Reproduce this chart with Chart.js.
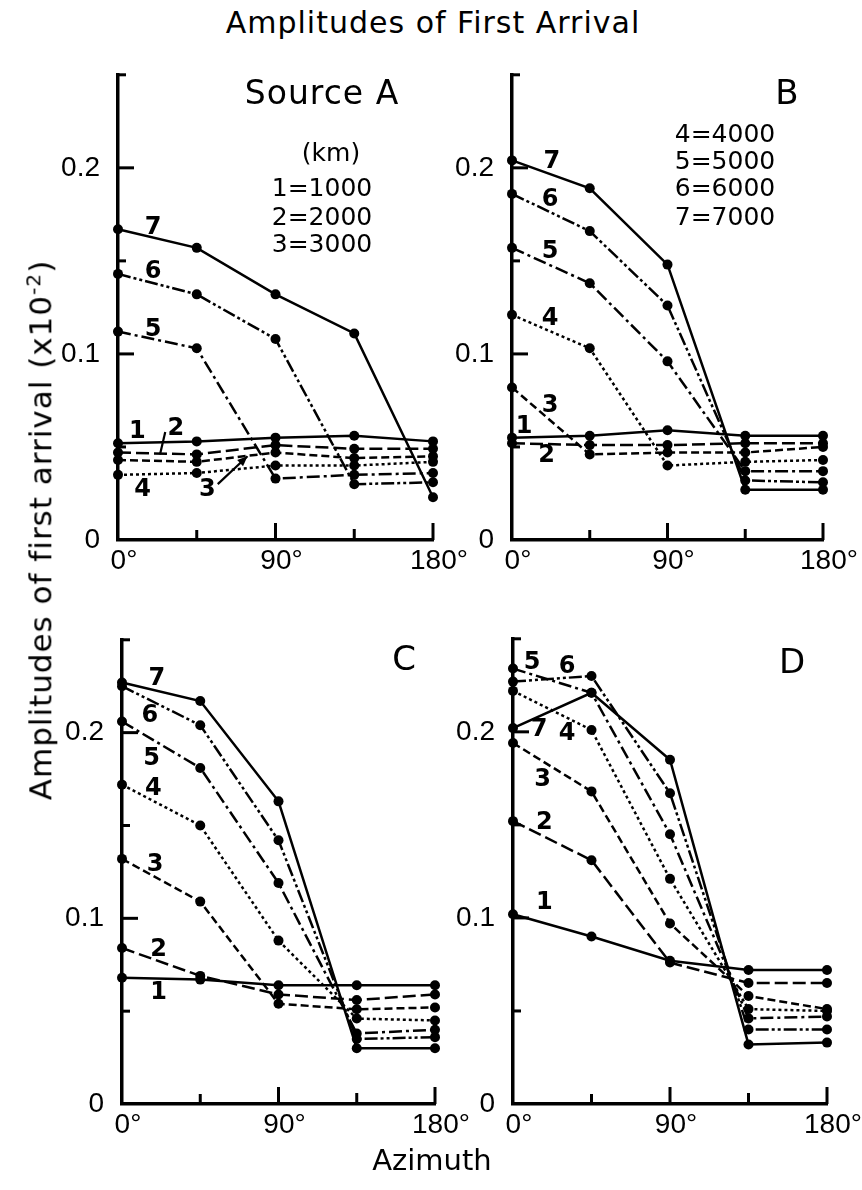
<!DOCTYPE html>
<html>
<head>
<meta charset="utf-8">
<script src="https://cdn.jsdelivr.net/npm/chart.js@4.4.0/dist/chart.umd.min.js"></script>
<style>
body { margin: 0; background: #fff; }
#page { position: relative; width: 862px; height: 1190px; overflow: hidden; background: #fff; font-family: "DejaVu Sans", sans-serif; color: #000; }
canvas { position: absolute; }
.txt { position: absolute; white-space: nowrap; line-height: 1; transform: translate(-50%, -50%); }
</style>
</head>
<body>
<div id="page">
  <canvas id="panelA" width="425" height="545" style="left:48px;top:40px"></canvas>
  <canvas id="panelB" width="421" height="545" style="left:442px;top:40px"></canvas>
  <canvas id="panelC" width="423" height="544" style="left:52px;top:605px"></canvas>
  <canvas id="panelD" width="424" height="545" style="left:443px;top:604px"></canvas>

  <div class="txt" style="left:433px;top:23px;font-size:30px;letter-spacing:1px">Amplitudes of First Arrival</div>
  <div class="txt" style="left:40px;top:530px;font-size:31px;letter-spacing:1px;transform:translate(-50%,-50%) rotate(-90deg)">Amplitudes of first arrival (x10<sup style="font-size:0.65em">-2</sup>)</div>
  <div class="txt" style="left:432px;top:1160px;font-size:29px">Azimuth</div>

  <div class="txt" style="left:322px;top:92px;font-size:33px;letter-spacing:1px">Source A</div>
  <div class="txt" style="left:331px;top:152px;font-size:25px">(km)</div>
  <div class="txt" id="kmA1" style="left:322px;top:187px;font-size:25px"></div>
  <div class="txt" id="kmA2" style="left:322px;top:216px;font-size:25px"></div>
  <div class="txt" id="kmA3" style="left:322px;top:243px;font-size:25px"></div>

  <div class="txt" style="left:787px;top:92px;font-size:34px">B</div>
  <div class="txt" id="kmB4" style="left:725px;top:133px;font-size:25px"></div>
  <div class="txt" id="kmB5" style="left:725px;top:160px;font-size:25px"></div>
  <div class="txt" id="kmB6" style="left:725px;top:187px;font-size:25px"></div>
  <div class="txt" id="kmB7" style="left:725px;top:216px;font-size:25px"></div>

  <div class="txt" style="left:404px;top:658px;font-size:34px">C</div>
  <div class="txt" style="left:792px;top:661px;font-size:34px">D</div>
</div>

<script>
// Azimuth (degrees) and series 1..7 = distance
const azimuth = [0, 45, 90, 135, 180];
const seriesIds = ['1', '2', '3', '4', '5', '6', '7'];
const distanceKm = [1000, 2000, 3000, 4000, 5000, 6000, 7000];
const xTickText = { 0: '0°', 90: '90°', 180: '180°' };
const yTickText = { 0: '0', 10: '0.1', 20: '0.2' };

// amplitudes (x10^-2), one row per series, values at 0,45,90,135,180 deg
const sourceA = [
    [0.052, 0.053, 0.055, 0.056, 0.053],
    [0.047, 0.046, 0.051, 0.049, 0.049],
    [0.043, 0.042, 0.047, 0.044, 0.045],
    [0.035, 0.036, 0.040, 0.040, 0.042],
    [0.112, 0.103, 0.033, 0.035, 0.036],
    [0.143, 0.132, 0.108, 0.030, 0.031],
    [0.167, 0.157, 0.132, 0.111, 0.023]
];
const sourceB = [
    [0.055, 0.056, 0.059, 0.056, 0.056],
    [0.052, 0.051, 0.051, 0.052, 0.052],
    [0.082, 0.046, 0.047, 0.047, 0.050],
    [0.121, 0.103, 0.040, 0.042, 0.043],
    [0.157, 0.138, 0.096, 0.037, 0.037],
    [0.186, 0.166, 0.126, 0.032, 0.031],
    [0.204, 0.189, 0.148, 0.027, 0.027]
];
const sourceC = [
    [0.068, 0.067, 0.064, 0.064, 0.064],
    [0.084, 0.069, 0.059, 0.056, 0.059],
    [0.132, 0.109, 0.054, 0.051, 0.052],
    [0.172, 0.150, 0.088, 0.046, 0.045],
    [0.206, 0.181, 0.119, 0.038, 0.040],
    [0.225, 0.204, 0.142, 0.035, 0.036],
    [0.227, 0.217, 0.163, 0.030, 0.030]
];
const sourceD = [
    [0.102, 0.090, 0.077, 0.072, 0.072],
    [0.152, 0.131, 0.076, 0.065, 0.065],
    [0.194, 0.168, 0.097, 0.058, 0.051],
    [0.222, 0.201, 0.121, 0.051, 0.050],
    [0.234, 0.221, 0.145, 0.046, 0.047],
    [0.227, 0.230, 0.167, 0.040, 0.040],
    [0.202, 0.221, 0.185, 0.032, 0.033]
];

// where the series numbers sit, in axis units [deg, amplitude]
const numPosA = [[11, 0.058], [33, 0.060], [51, 0.027], [14, 0.027], [20, 0.113], [20, 0.144], [20, 0.168]];
const numPosB = [[7, 0.061], [20, 0.045], [22, 0.072], [22, 0.119], [22, 0.155], [22, 0.183], [23, 0.203]];
const numPosC = [[21, 0.060], [21, 0.083], [19, 0.129], [18, 0.170], [17, 0.186], [16, 0.209], [20, 0.229]];
const numPosD = [[18, 0.108], [18, 0.151], [17, 0.174], [31, 0.199], [11, 0.237], [31, 0.235], [15, 0.201]];
// pointer strokes next to labels 2 and 3 in panel A
const pointersA = [[27, 0.058, 24, 0.046, false], [57, 0.030, 74, 0.045, true]];

const dashes = [[], [13, 5], [8, 4], [3, 3], [13, 4, 3, 4], [13, 3, 3, 3, 3, 3], []];

// legend texts
document.getElementById('kmA1').textContent = '1=' + distanceKm[0];
document.getElementById('kmA2').textContent = '2=' + distanceKm[1];
document.getElementById('kmA3').textContent = '3=' + distanceKm[2];
document.getElementById('kmB4').textContent = '4=' + distanceKm[3];
document.getElementById('kmB5').textContent = '5=' + distanceKm[4];
document.getElementById('kmB6').textContent = '6=' + distanceKm[5];
document.getElementById('kmB7').textContent = '7=' + distanceKm[6];

// inward ticks, series numbers and pointers
const decor = {
    id: 'decor',
    afterDatasetsDraw(chart, args, opts) {
        const ctx = chart.ctx;
        const xs = chart.scales.x, ys = chart.scales.y;
        ctx.save();
        ctx.strokeStyle = '#000';
        ctx.lineWidth = 3;
        const y0 = ys.getPixelForValue(0), x0 = xs.getPixelForValue(0);
        [[45, 10], [90, 17], [135, 11], [180, 17]].forEach(([v, len]) => {
            const px = xs.getPixelForValue(v);
            ctx.beginPath(); ctx.moveTo(px, y0); ctx.lineTo(px, y0 - len); ctx.stroke();
        });
        [[0.05, 8], [0.1, 16], [0.15, 8], [0.2, 16], [0.25, 8]].forEach(([v, len]) => {
            const py = ys.getPixelForValue(v);
            ctx.beginPath(); ctx.moveTo(x0, py); ctx.lineTo(x0 + len, py); ctx.stroke();
        });

        ctx.fillStyle = '#000';
        ctx.font = 'bold 24px "DejaVu Sans"';
        ctx.textAlign = 'center';
        ctx.textBaseline = 'middle';
        opts.numPos.forEach((p, i) => {
            ctx.fillText(seriesIds[i], xs.getPixelForValue(p[0]), ys.getPixelForValue(p[1]));
        });

        ctx.lineWidth = 2.2;
        (opts.pointers || []).forEach(([xa, ya, xb, yb, head]) => {
            const ax = xs.getPixelForValue(xa), ay = ys.getPixelForValue(ya);
            const bx = xs.getPixelForValue(xb), by = ys.getPixelForValue(yb);
            ctx.beginPath(); ctx.moveTo(ax, ay); ctx.lineTo(bx, by); ctx.stroke();
            if (head) {
                const ang = Math.atan2(by - ay, bx - ax);
                ctx.beginPath();
                ctx.moveTo(bx, by);
                ctx.lineTo(bx - 11 * Math.cos(ang - 0.4), by - 11 * Math.sin(ang - 0.4));
                ctx.lineTo(bx - 11 * Math.cos(ang + 0.4), by - 11 * Math.sin(ang + 0.4));
                ctx.closePath(); ctx.fill();
            }
        });
        ctx.restore();
    }
};

function makePanel(id, rows, numPos, pointers) {
    const datasets = rows.map((vals, i) => ({
        label: seriesIds[i],
        data: azimuth.map((a, j) => ({ x: a, y: vals[j] })),
        borderColor: '#000',
        backgroundColor: '#000',
        borderWidth: 2.5,
        borderDash: dashes[i],
        pointRadius: 5,
        pointBorderWidth: 0,
        pointBackgroundColor: '#000',
        tension: 0,
        clip: false
    }));
    const tickFont = { family: 'Liberation Sans', size: 28 };
    return new Chart(document.getElementById(id), {
        type: 'line',
        data: { datasets },
        options: {
            responsive: false,
            animation: false,
            layout: { padding: { top: 15, right: 40, left: 0, bottom: 0 } },
            plugins: {
                legend: { display: false },
                tooltip: { enabled: false },
                decor: { numPos, pointers }
            },
            scales: {
                x: {
                    type: 'linear', min: 0, max: 180,
                    afterFit: s => { s.height = 45; },
                    grid: { display: false, drawTicks: false },
                    border: { display: true, color: '#000', width: 3.5 },
                    ticks: {
                        stepSize: 45, autoSkip: false, maxRotation: 0, padding: 4, labelOffset: 6,
                        color: '#000', font: tickFont,
                        callback: v => xTickText[v] || ''
                    }
                },
                y: {
                    type: 'linear', min: 0, max: 0.25,
                    afterFit: s => { s.width = 70; },
                    grid: { display: false, drawTicks: false },
                    border: { display: true, color: '#000', width: 3.5 },
                    ticks: {
                        stepSize: 0.05, autoSkip: false, padding: 18,
                        color: '#000', font: tickFont,
                        callback: v => yTickText[Math.round(v * 100)] || ''
                    }
                }
            }
        },
        plugins: [decor]
    });
}

makePanel('panelA', sourceA, numPosA, pointersA);
makePanel('panelB', sourceB, numPosB, []);
makePanel('panelC', sourceC, numPosC, []);
makePanel('panelD', sourceD, numPosD, []);
</script>
</body>
</html>
